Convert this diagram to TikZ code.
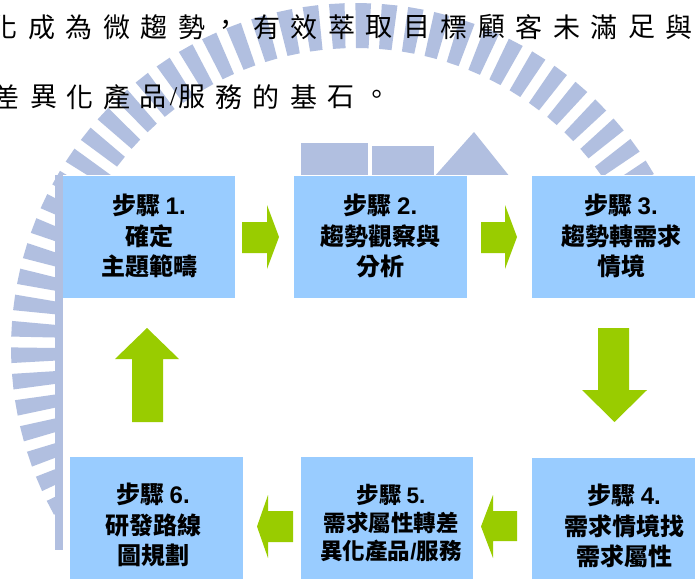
\documentclass[tikz,border=0pt]{standalone}
\usepackage{fontspec}
\newfontfamily\cjk{Noto Sans CJK TC}
\newfontfamily\arialf{Liberation Sans}
\newfontfamily\seriff{Liberation Serif}
\definecolor{boxblue}{HTML}{99CCFF}
\definecolor{agreen}{HTML}{99CC00}
\definecolor{wm}{HTML}{B1BFE0}
\tikzset{
  stepbox/.style={fill=boxblue, draw=none, inner sep=0pt, anchor=north west},
  steptext/.style={align=center, inner sep=0pt, font=\cjk\bfseries\fontsize{24}{30.5}\selectfont},
  steptextsmall/.style={align=center, inner sep=0pt, font=\cjk\bfseries\fontsize{22.5}{28}\selectfont},
  garrow/.style={fill=agreen, draw=none},
  wmark/.style={fill=wm, draw=none},
  bodych/.style={inner sep=0pt, font=\cjk\fontsize{27}{27}\selectfont}
}
\newcommand\stepnum[1]{{\arialf\bfseries #1}}
\begin{document}
\begin{tikzpicture}[x=1pt,y=-1pt]
\useasboundingbox (0,0) rectangle (695,578);
\clip (0,0) rectangle (695,578);
\fill[white] (0,0) rectangle (695,578);
% ---- watermark (faint logo behind) ----
\coordinate (wc) at (356,348);
\foreach \a in {-30,-25.6,...,212} {
  \fill[wmark] ([shift={(wc)}]{\a-1.2}:300pt) -- ([shift={(wc)}]{\a-1.3}:345pt)
     -- ([shift={(wc)}]{\a+1.3}:345pt) -- ([shift={(wc)}]{\a+1.2}:300pt) -- cycle;
}
\fill[wmark] (301,143) rectangle (368,177);
\fill[wmark] (372,146) rectangle (434,177);
\fill[wmark] (434,177) -- (474,132) -- (510,177) -- cycle;
% white background of the pasted diagram
\fill[white] (63,175) rectangle (695,578);
\fill[wmark] (55,175) rectangle (63,550);
% ---- boxes ----
\node[stepbox, minimum width=172pt, minimum height=122pt] (b1) at (63,176) {};
\node[stepbox, minimum width=173pt, minimum height=122pt] (b2) at (294,176) {};
\node[stepbox, minimum width=178pt, minimum height=122pt] (b3) at (532,176) {};
\node[stepbox, minimum width=184pt, minimum height=136pt] (b4) at (532,458) {};
\node[stepbox, minimum width=172pt, minimum height=133pt] (b5) at (301,457) {};
\node[stepbox, minimum width=173pt, minimum height=136pt] (b6) at (70,457) {};
% ---- texts ----
\node[steptext] (t1) at (149,236) {步驟 \stepnum{1.}\\確定\\主題範疇};
\node[steptext] (t2) at (380.5,236) {步驟 \stepnum{2.}\\趨勢觀察與\\分析};
\node[steptext] (t3) at (621,236) {步驟 \stepnum{3.}\\趨勢轉需求\\情境};
\node[steptext] (t4) at (624,526) {步驟 \stepnum{4.}\\需求情境找\\需求屬性};
\node[steptextsmall] (t5) at (391,523) {步驟 \stepnum{5.}\\需求屬性轉差\\異化產品\stepnum{/}服務};
\node[steptext] (t6) at (153,525) {步驟 \stepnum{6.}\\研發路線\\圖規劃};
% ---- block arrows ----
\fill[garrow] (242,222) -- (267,222) -- (267,205) -- (279,237) -- (267,269) -- (267,253) -- (242,253) -- cycle;
\fill[garrow] (481,222) -- (505,222) -- (505,205) -- (517,237) -- (505,269) -- (505,253) -- (481,253) -- cycle;
\fill[garrow] (598,328) -- (629,328) -- (629,390) -- (647,390) -- (614.5,422) -- (582,390) -- (598,390) -- cycle;
\fill[garrow] (517,511) -- (493,511) -- (493,495) -- (481,526.5) -- (493,558) -- (493,541) -- (517,541) -- cycle;
\fill[garrow] (293,511) -- (268,511) -- (268,495) -- (257,526.5) -- (268,558) -- (268,542) -- (293,542) -- cycle;
\fill[garrow] (132,422) -- (132,359) -- (115,359) -- (147,328) -- (179,359) -- (163,359) -- (163,422) -- cycle;
% ---- body text lines ----
\foreach \c [count=\i from 0] in {化,成,為,微,趨,勢} {
  \node[bodych] (la\i) at ({4+37.5*\i},27) {\c};
}
\node[bodych] (lcomma) at (226,27) {，};
\foreach \c [count=\i from 0] in {有,效,萃,取,目,標,顧,客,未,滿,足,與} {
  \node[bodych] (lb\i) at ({266.5+37.5*\i},27) {\c};
}
\foreach \c/\x in {差/6,異/43.5,化/80,產/117,品/153,服/192,務/228.5,的/266,基/303.5,石/341} {
  \node[bodych] (m\x) at (\x,97) {\c};
}
\node[inner sep=0pt, font=\seriff\fontsize{27}{27}\selectfont] (slash) at (173.5,97) {/};
\node[bodych] (stop) at (377,97) {。};
\end{tikzpicture}
\end{document}
